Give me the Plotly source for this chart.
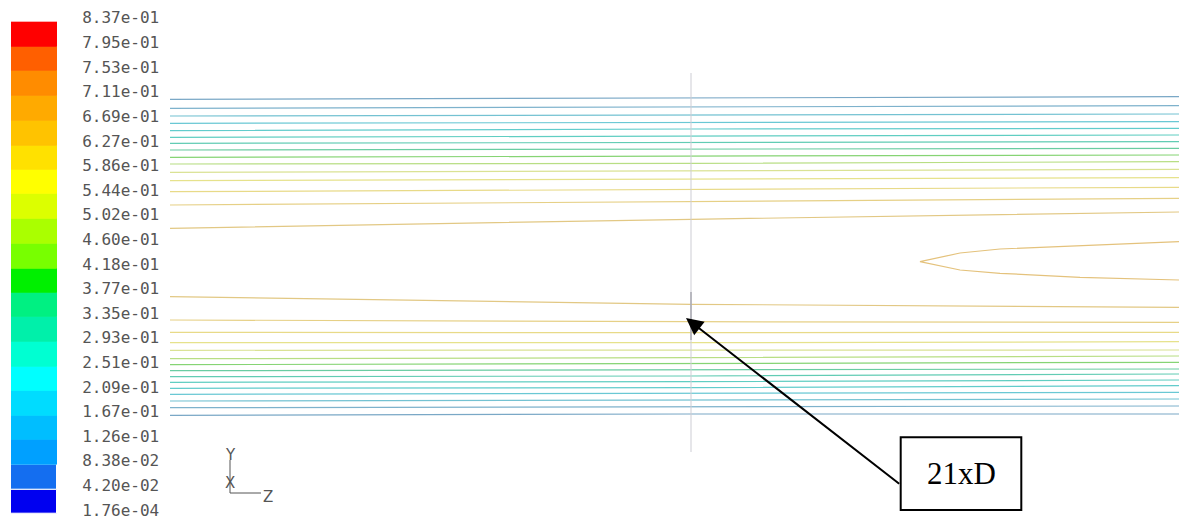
import plotly.graph_objects as go

W, H = 1179, 521

# Velocity magnitude levels (m/s) shown on the colour scale
levels = [1.76e-04, 4.20e-02, 8.38e-02, 1.26e-01, 1.67e-01, 2.09e-01, 2.51e-01,
          2.93e-01, 3.35e-01, 3.77e-01, 4.18e-01, 4.60e-01, 5.02e-01, 5.44e-01,
          5.86e-01, 6.27e-01, 6.69e-01, 7.11e-01, 7.53e-01, 7.95e-01, 8.37e-01]

# Band colours, lowest band first
band_colors = ["#0000f0", "#146ef0", "#00a0ff", "#00beff", "#00dcff", "#00ffff",
               "#00ffd2", "#00f0aa", "#00f082", "#00f000", "#78ff00", "#aaff00",
               "#dcff00", "#ffff00", "#ffe100", "#ffc300", "#ffaa00", "#ff8c00",
               "#ff5f00", "#ff0000"]

# Pipe geometry (mm): D = 320, marker station at 21 D
D = 320.0
z_marker = 21 * D
z_stations = [6199.0, 6720.0, 7208.0]

# Radial position (mm) of each contour line, wall side first, at each axial station
r_top_z0 = [157.2, 148.2, 140.5, 133.2, 125.8, 119.2, 113.2, 106.5, 99.2, 92.5, 84.2, 75.8, 64.8, 51.5, 28.2]
r_top_z1 = [158.2, 149.8, 141.5, 134.2, 127.5, 120.5, 113.8, 107.2, 100.5, 93.2, 85.5, 77.2, 67.2, 54.8, 37.2]
r_top_z2 = [159.8, 150.8, 142.5, 134.8, 128.2, 121.5, 114.8, 108.2, 101.5, 94.8, 87.2, 78.8, 69.2, 58.2, 44.5]
r_bot_z0 = [-158.8, -151.2, -144.5, -137.8, -131.8, -125.8, -120.2, -114.2, -108.2, -102.2, -93.8, -86.2, -75.8, -63.5, -40.2]
r_bot_z1 = [-157.5, -150.2, -143.5, -136.8, -131.2, -125.2, -119.5, -113.5, -106.8, -101.2, -93.5, -86.2, -76.2, -65.2, -47.8]
r_bot_z2 = [-157.5, -149.5, -142.5, -135.8, -129.2, -123.5, -117.5, -112.5, -105.8, -99.5, -93.5, -85.2, -75.8, -65.8, -50.8]

# Closed core contour downstream of the marker
core_z = [7208, 7109, 7029, 6989, 6949, 6989, 7029, 7109, 7208]
core_r = [14.8, 10.8, 7.5, 3.5, -5.2, -13.5, -16.8, -20.8, -23.5]

# Contour line colours, wall side first, last entry for the core contour
line_colors = ["#7aa8c6", "#7eb2cc", "#74c2d2", "#6ac8d4", "#62cccc", "#60cec2",
               "#62ccb4", "#6acca2", "#86d474", "#b8de84", "#dae294", "#e6e28c",
               "#e8da88", "#e6d086", "#e2c884", "#e4c27c"]

fig = go.Figure()

# Contour lines
for k in range(len(r_top_z0)):
    for rs in ([r_top_z0[k], r_top_z1[k], r_top_z2[k]],
               [r_bot_z0[k], r_bot_z1[k], r_bot_z2[k]]):
        fig.add_trace(go.Scatter(x=z_stations, y=rs, mode="lines",
                                 line=dict(color=line_colors[k], width=1.2),
                                 hoverinfo="skip", showlegend=False))
fig.add_trace(go.Scatter(x=core_z, y=core_r, mode="lines",
                         line=dict(color=line_colors[-1], width=1.2),
                         hoverinfo="skip", showlegend=False))

# Measurement plane at 21 D
fig.add_trace(go.Scatter(x=[z_marker, z_marker], y=[183.5, -195.5], mode="lines",
                         line=dict(color="#cdcdd4", width=1),
                         hoverinfo="skip", showlegend=False))
fig.add_trace(go.Scatter(x=[z_marker, z_marker], y=[-35.5, -83.5], mode="lines",
                         line=dict(color="#a8a8b0", width=1.5),
                         hoverinfo="skip", showlegend=False))

# Colour scale as stacked bands
fig.add_trace(go.Bar(x=[0] * 20, base=levels[:-1],
                     y=[levels[i + 1] - levels[i] for i in range(20)],
                     width=1, marker=dict(color=band_colors,
                                          line=dict(color=["white", "white"] + band_colors[2:], width=1)),
                     xaxis="x2", yaxis="y2", hoverinfo="skip", showlegend=False))

fig.update_layout(
    width=W, height=H, margin=dict(l=0, r=0, t=0, b=0, autoexpand=False),
    paper_bgcolor="white", plot_bgcolor="white",
    barmode="overlay", bargap=0,
    xaxis=dict(range=[z_marker - 691, z_marker + 488], domain=[0, 1],
               visible=False, fixedrange=True, automargin=False),
    yaxis=dict(range=[-264.5, 256.5], domain=[0, 1],
               visible=False, fixedrange=True, automargin=False),
    xaxis2=dict(range=[-0.5, 0.5], domain=[11 / W, 57 / W], anchor="y2",
                visible=False, fixedrange=True, automargin=False),
    yaxis2=dict(range=[levels[0] - 1e-4, levels[-1] + 1e-4],
                domain=[1 - 514 / H, 1 - 21.7 / H],
                anchor="x2", side="right", showgrid=False, zeroline=False,
                showline=False, ticks="outside", ticklen=21, automargin=False,
                ticklabeloverflow="allow", ticklabelshift=-4,
                tickcolor="rgba(0,0,0,0)", tickvals=levels,
                ticktext=["{:.2e}".format(v) for v in levels],
                tickfont=dict(family="DejaVu Sans Mono", size=16, color="#555555"),
                fixedrange=True),
)

# Arrow pointing to the 21 D plane and its label box
fig.add_annotation(x=z_marker - 5, y=-61.5, ax=6929.7, ay=-228.5,
                   xref="x", yref="y", axref="x", ayref="y", text="",
                   showarrow=True, arrowhead=2, arrowsize=1.7, arrowwidth=2,
                   arrowcolor="black")
fig.add_shape(type="rect", xref="x", yref="y", x0=6929.7, x1=7050.3,
              y0=-253.5, y1=-180.8, line=dict(color="black", width=2),
              fillcolor="white")
fig.add_annotation(x=6990, y=-216.5, xref="x", yref="y", text="21xD",
                   showarrow=False,
                   font=dict(family="Liberation Serif", size=31, color="black"))

# Coordinate triad
def px(x, y):
    return x / W, 1 - y / H

ox, oy = px(230, 493)
ty = px(230, 460)[1]
zx = px(261, 493)[0]
for x0, y0, x1, y1 in [(ox, oy, ox, ty), (ox, oy, zx, oy)]:
    fig.add_shape(type="line", xref="paper", yref="paper", x0=x0, y0=y0,
                  x1=x1, y1=y1, line=dict(color="#555555", width=1))
for label, (lx, ly) in [("Y", px(230, 455)), ("X", px(230, 483)), ("Z", px(268, 497))]:
    fig.add_annotation(x=lx, y=ly, xref="paper", yref="paper", text=label,
                       showarrow=False, xanchor="center", yanchor="middle",
                       font=dict(family="DejaVu Sans", size=15, color="#555555"))

fig.write_html("out.html")
